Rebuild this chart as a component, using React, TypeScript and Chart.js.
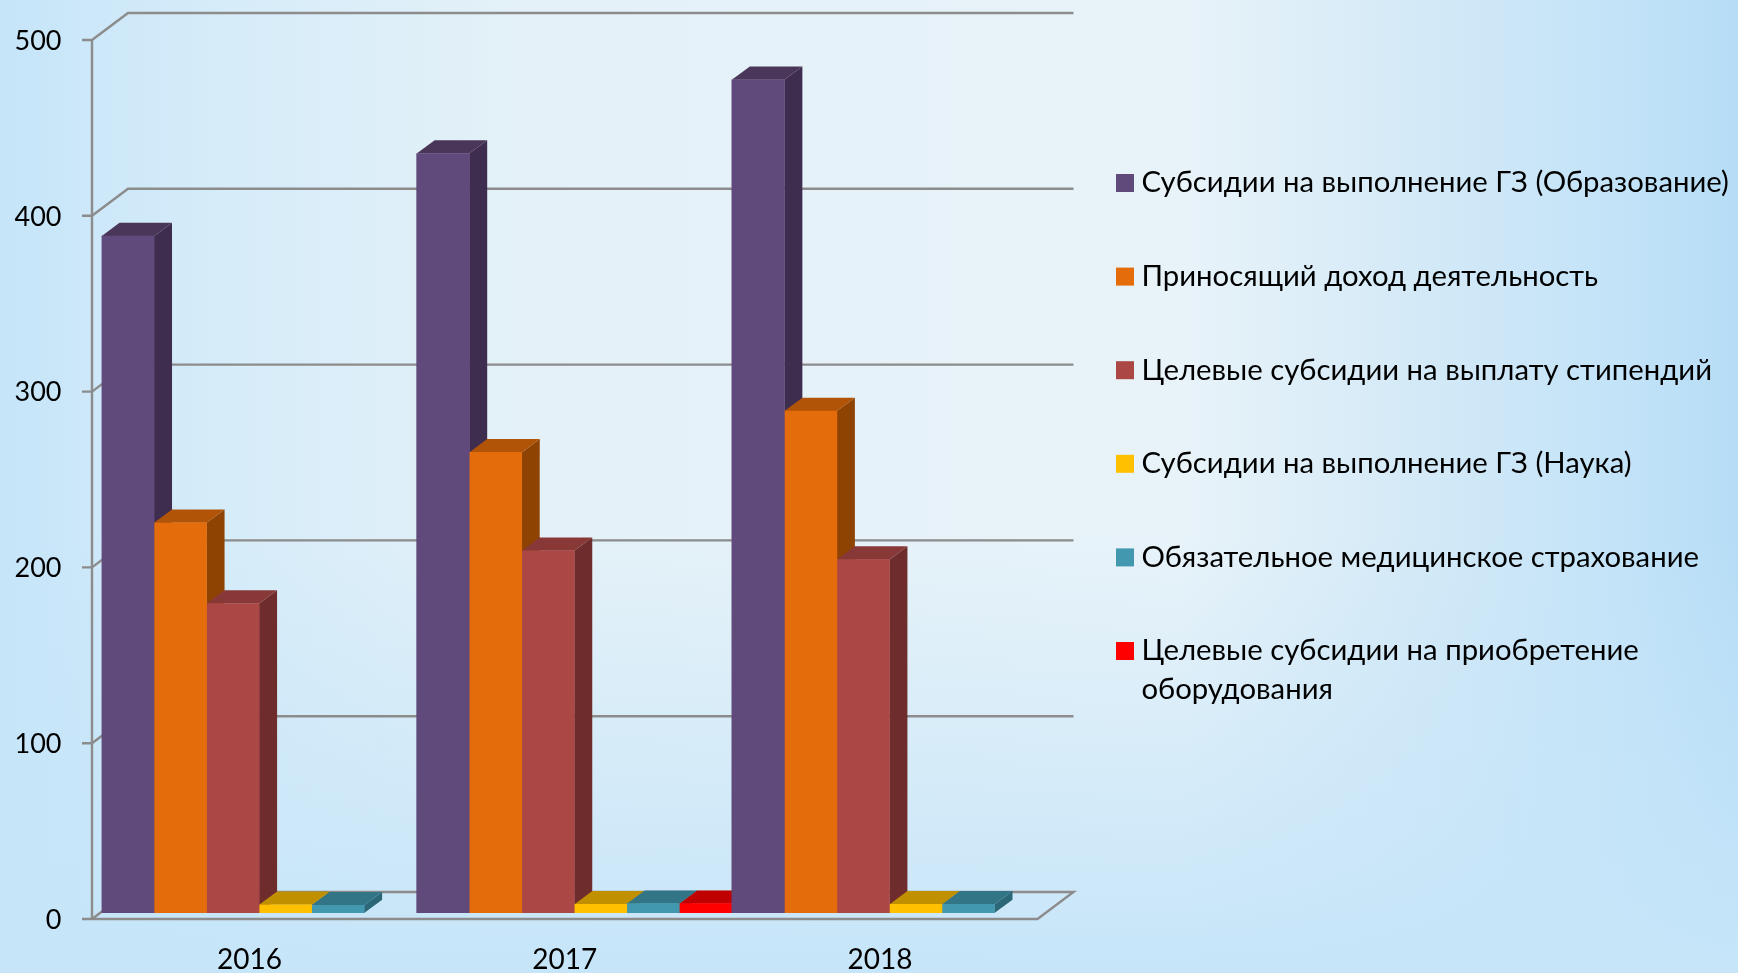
import React, { useEffect, useRef } from "react";
import { Chart, registerables } from "chart.js";

Chart.register(...registerables);

const years = ["2016", "2017", "2018"];
const seriesNames = [
  "Субсидии на выполнение ГЗ (Образование)",
  "Приносящий доход деятельность",
  "Целевые субсидии на выплату стипендий",
  "Субсидии на выполнение ГЗ (Наука)",
  "Обязательное медицинское страхование",
  "Целевые субсидии на приобретение оборудования",
];
const legendLines = [
  ["Субсидии на выполнение ГЗ (Образование)"],
  ["Приносящий доход деятельность"],
  ["Целевые субсидии на выплату стипендий"],
  ["Субсидии на выполнение ГЗ (Наука)"],
  ["Обязательное медицинское страхование"],
  ["Целевые субсидии на приобретение", "оборудования"],
];
const educationGZ = [385, 432, 474];
const incomeActivity = [222, 262, 285.5];
const stipends = [176, 206, 201];
const scienceGZ = [4.7, 4.9, 4.9];
const oms = [4.4, 5.3, 4.9];
const equipment = [null, 5.3, null];
const allValues = [educationGZ, incomeActivity, stipends, scienceGZ, oms, equipment];

const frontColors = ["#604A7B", "#E46C0A", "#AB4744", "#FFC000", "#4198AF", "#FF0000"];
const topColors = ["#4A3658", "#B15407", "#893838", "#C09000", "#317587", "#C00000"];
const sideColors = ["#3F2D50", "#8F4303", "#6E2C2C", "#A07800", "#2B6776", "#A00000"];
const tickValues = [0, 100, 200, 300, 400, 500];

const FONT = "Lato, 'Open Sans', sans-serif";
const DEPTH_X = 18;
const DEPTH_Y = 13.3;
const FRONT_DX = -9.5;
const FRONT_DY = 6;
const BACK_DX = 36;
const BACK_DY = -27;
const AXIS = "#8C8C8C";

const backdrop = {
  id: "backdrop",
  beforeDraw(chart: any) {
    const { ctx, width, height } = chart;
    const h = ctx.createLinearGradient(0, 0, width, 0);
    h.addColorStop(0, "#C6E5F9");
    h.addColorStop(0.13, "#D6ECF9");
    h.addColorStop(0.3, "#E4F1F8");
    h.addColorStop(0.68, "#E8F3F9");
    h.addColorStop(0.82, "#D3E9F7");
    h.addColorStop(0.93, "#C3E3F8");
    h.addColorStop(1, "#B6DDF6");
    ctx.fillStyle = h;
    ctx.fillRect(0, 0, width, height);
    const v = ctx.createLinearGradient(0, 0, 0, height);
    v.addColorStop(0, "rgba(198,229,249,0)");
    v.addColorStop(0.55, "rgba(198,229,249,0)");
    v.addColorStop(1, "rgba(198,229,249,1)");
    ctx.fillStyle = v;
    ctx.fillRect(0, 0, width, height);
  },
};

const walls = {
  id: "walls",
  beforeDatasetsDraw(chart: any) {
    const { ctx, scales } = chart;
    const y = scales.y;
    const left = scales.x.left + FRONT_DX;
    const right = scales.x.right + FRONT_DX;
    ctx.save();
    ctx.strokeStyle = AXIS;
    ctx.lineWidth = 2.4;
    tickValues.forEach((t) => {
      const py = y.getPixelForValue(t) + FRONT_DY;
      ctx.beginPath();
      ctx.moveTo(left - 10, py);
      ctx.lineTo(left, py);
      ctx.lineTo(left + BACK_DX, py + BACK_DY);
      ctx.lineTo(right + BACK_DX, py + BACK_DY);
      if (t === 0) {
        ctx.lineTo(right, py);
        ctx.lineTo(left, py);
      }
      ctx.stroke();
    });
    ctx.beginPath();
    ctx.moveTo(left, y.getPixelForValue(500) + FRONT_DY);
    ctx.lineTo(left, y.getPixelForValue(0) + FRONT_DY);
    ctx.stroke();
    ctx.restore();
  },
};

const bars3d = {
  id: "bars3d",
  beforeDatasetsDraw(chart: any) {
    const { ctx } = chart;
    ctx.save();
    const items: any[] = [];
    chart.data.datasets.forEach((_: any, di: number) => {
      chart.getDatasetMeta(di).data.forEach((b: any, i: number) => {
        if (allValues[di][i] != null) items.push({ b, di });
      });
    });
    items.sort((p, q) => p.b.x - q.b.x);
    items.forEach(({ b, di }) => {
      const l = b.x - b.width / 2;
      const r = b.x + b.width / 2;
      ctx.fillStyle = sideColors[di];
      ctx.beginPath();
      ctx.moveTo(r, b.y);
      ctx.lineTo(r + DEPTH_X, b.y - DEPTH_Y);
      ctx.lineTo(r + DEPTH_X, b.base - DEPTH_Y);
      ctx.lineTo(r, b.base);
      ctx.closePath();
      ctx.fill();
      ctx.fillStyle = topColors[di];
      ctx.beginPath();
      ctx.moveTo(l, b.y);
      ctx.lineTo(l + DEPTH_X, b.y - DEPTH_Y);
      ctx.lineTo(r + DEPTH_X, b.y - DEPTH_Y);
      ctx.lineTo(r, b.y);
      ctx.closePath();
      ctx.fill();
    });
    ctx.restore();
  },
};

const sideLegend = {
  id: "sideLegend",
  afterDraw(chart: any) {
    const { ctx } = chart;
    ctx.save();
    ctx.textBaseline = "middle";
    ctx.textAlign = "left";
    ctx.font = `29.3px ${FONT}`;
    const x = 1116;
    const startY = 183;
    const step = 93.6;
    legendLines.forEach((lines, i) => {
      const cy = startY + step * i;
      ctx.fillStyle = frontColors[i];
      ctx.fillRect(x, cy - 9, 18, 18);
      ctx.fillStyle = "#000";
      lines.forEach((line, k) => {
        ctx.fillText(line, 1141.5, cy + k * 38.5);
      });
    });
    ctx.restore();
  },
};

export default function App() {
  const ref = useRef<HTMLCanvasElement>(null);
  useEffect(() => {
    document.body.style.margin = "0";
    document.body.style.overflow = "hidden";
    const chart = new Chart(ref.current as HTMLCanvasElement, {
      type: "bar",
      data: {
        labels: years,
        datasets: allValues.map((values, i) => ({
          label: seriesNames[i],
          data: values,
          backgroundColor: frontColors[i],
          borderWidth: 0,
          barPercentage: 1,
          categoryPercentage: 1,
        })),
      },
      options: {
        animation: false,
        responsive: false,
        layout: { padding: { top: 34, right: 691, bottom: 0, left: 0 } },
        plugins: { legend: { display: false }, tooltip: { enabled: false }, title: { display: false } },
        scales: {
          x: {
            grid: { display: false },
            border: { display: false },
            afterFit: (s: any) => { s.height = 60; s.paddingLeft = 0; s.paddingRight = 0; },
            ticks: {
              color: "#000",
              font: { family: FONT, size: 28 },
              labelOffset: FRONT_DX,
              padding: 22,
              maxRotation: 0,
            },
          },
          y: {
            min: 0,
            max: 500,
            grid: { display: false },
            border: { display: false },
            afterFit: (s: any) => { s.width = 101.5; s.paddingTop = 0; s.paddingBottom = 0; },
            ticks: {
              stepSize: 100,
              color: "#000",
              font: { family: FONT, size: 27 },
              labelOffset: FRONT_DY + 1,
              padding: 32,
            },
          },
        },
      },
      plugins: [backdrop, walls, bars3d, sideLegend],
    } as any);
    return () => chart.destroy();
  }, []);
  return <canvas ref={ref} width={1738} height={973} style={{ display: "block" }} />;
}
